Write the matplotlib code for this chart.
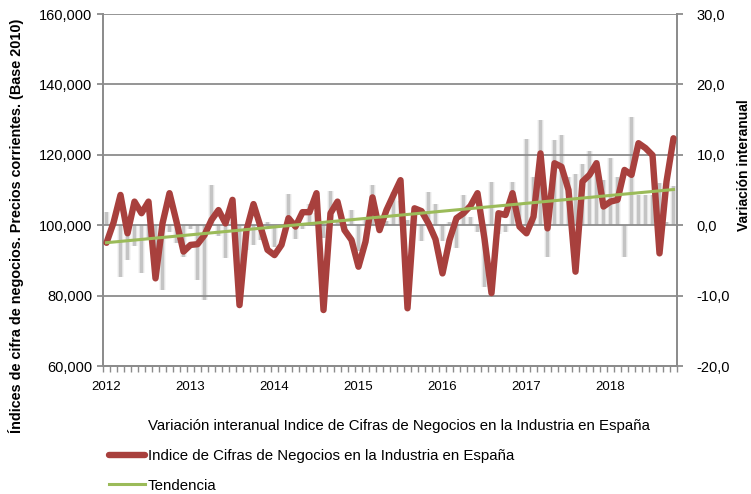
import matplotlib
matplotlib.use("Agg")
import matplotlib.pyplot as plt
import matplotlib.ticker as ticker
from matplotlib.lines import Line2D
from matplotlib.patches import Patch
import numpy as np

# Monthly data, Jan 2012 - Oct 2018
indice = [95000, 100700, 108600, 97700, 106700, 103400, 106700, 84900, 100500, 109100, 101000, 92500,
          94400, 94600, 97200, 101500, 104300, 100500, 107200, 77300, 98600, 106000, 99600, 93000,
          91500, 94400, 102000, 99600, 103700, 103700, 109100, 75900, 103400, 106700, 98600, 95800,
          88200, 95300, 107900, 98600, 104300, 108600, 112800, 76400, 104800, 104000, 100500, 96000,
          86300, 95800, 102000, 103400, 105500, 109100, 96100, 80700, 103400, 102900, 109100, 99600,
          97700, 102400, 120400, 99100, 117600, 116600, 110000, 86800, 112400, 114300, 117600, 105300,
          106700, 107200, 115700, 114300, 123300, 121900, 119900, 92000, 112400, 124700]

variacion = [1.9, 0.5, -7.4, -5.0, -3.0, -6.8, -2.0, -4.0, -9.2, -1.0, -2.5, -4.5,
             -0.6, -7.8, -10.6, 5.7, -1.6, -4.7, 0.5, -8.9, -3.5, -2.8, -2.1, 0.5,
             -3.1, -0.2, 4.5, -2.0, -0.6, 3.0, 1.8, -1.8, 4.9, 0.7, -1.0, 2.1,
             -3.6, 1.0, 5.7, -1.0, 0.6, 4.7, 3.4, 0.7, 1.4, -2.2, 4.7, 3.0,
             -2.2, 0.5, -3.3, 4.3, 1.2, -1.0, -8.8, 6.1, -1.3, -1.0, 6.1, 3.0,
             12.3, 6.9, 14.9, -4.5, 12.1, 12.8, 6.9, 7.3, 8.7, 10.6, 9.3, 6.4,
             9.5, 6.8, -4.5, 15.3, 4.3, 4.3, 4.3, 6.0, 0.5, 5.5]

tendencia_inicio = 95030
tendencia_fin = 110140

years = ['2012', '2013', '2014', '2015', '2016', '2017', '2018']

plt.rcParams['font.family'] = ['Liberation Sans', 'DejaVu Sans']

grid_col = '#8c8c8c'
red = '#A8403D'
green = '#9BBB59'

n = len(indice)
x = np.arange(n)

fig = plt.figure(figsize=(7.51, 4.94), dpi=100)
ax = fig.add_axes([103/751, 1 - 366/494, 574/751, 352/494])
ax2 = ax.twinx()

# blurry grey bars on the right axis: a few soft layers
ax2.bar(x, variacion, width=1.0, color='#e4e4e4', alpha=0.35, linewidth=0)
ax2.bar(x, variacion, width=0.7, color='#d0d0d0', alpha=0.45, linewidth=0)
ax2.bar(x, variacion, width=0.4, color='#bdbdbd', alpha=0.8, linewidth=0)
ax2.set_ylim(-20, 30)
ax2.yaxis.set_major_locator(ticker.MultipleLocator(10))
ax2.yaxis.set_major_formatter(ticker.FuncFormatter(lambda v, p: f"{v:.1f}".replace('.', ',')))

ax.set_zorder(ax2.get_zorder() + 1)
ax.patch.set_visible(False)

ax.plot(x, indice, color=red, lw=4.6, solid_joinstyle='round', solid_capstyle='round', zorder=3)
ax.plot([0, n - 1], [tendencia_inicio, tendencia_fin], color=green, lw=2.2, zorder=4)

ax.set_ylim(60000, 160000)
ax.yaxis.set_major_locator(ticker.MultipleLocator(20000))
ax.yaxis.set_major_formatter(ticker.FuncFormatter(lambda v, p: f"{v:,.0f}"))
ax.grid(axis='y', color=grid_col, lw=1.3)
ax.set_xlim(-0.5, n - 0.5)
ax.set_xticks(np.arange(0, n, 12))
ax.set_xticklabels(years)
ax.xaxis.set_minor_locator(ticker.FixedLocator(np.arange(-0.5, n, 1)))
ax.tick_params(axis='x', which='major', length=0, labelsize=9.5, pad=11)
ax.tick_params(axis='x', which='minor', length=4, color=grid_col, width=1)
ax.tick_params(axis='y', length=4, color=grid_col, width=1.3, labelsize=10.5)
ax2.tick_params(axis='y', length=4, color=grid_col, width=1.3, labelsize=10.5, pad=10)

for a in (ax, ax2):
    for s in a.spines.values():
        s.set_color(grid_col)
        s.set_linewidth(1.3)
    a.spines['top'].set_visible(False)

ax.set_ylabel('Índices de cifra de negocios. Precios corrientes. (Base 2010)',
              fontsize=10.4, fontweight='bold')
ax.yaxis.set_label_coords(-0.138, 0.398)
ax2.set_ylabel('Variación interanual', fontsize=10, fontweight='bold')
ax2.yaxis.set_label_coords(1.105, 0.57)

handles = [Patch(facecolor='none', edgecolor='none'),
           Line2D([], [], color=red, lw=4.6, solid_capstyle='round'),
           Line2D([], [], color=green, lw=2.2)]
labels = ['Variación interanual Indice de Cifras de Negocios en la Industria en España',
          'Indice de Cifras de Negocios en la Industria en España',
          'Tendencia']
fig.legend(handles, labels, loc='upper left', bbox_to_anchor=(103/751, 1 - 413/494),
           frameon=False, fontsize=10.8, handlelength=2.4, handletextpad=0.2,
           labelspacing=1.05, borderaxespad=0)

fig.savefig('out.png', dpi=100)
